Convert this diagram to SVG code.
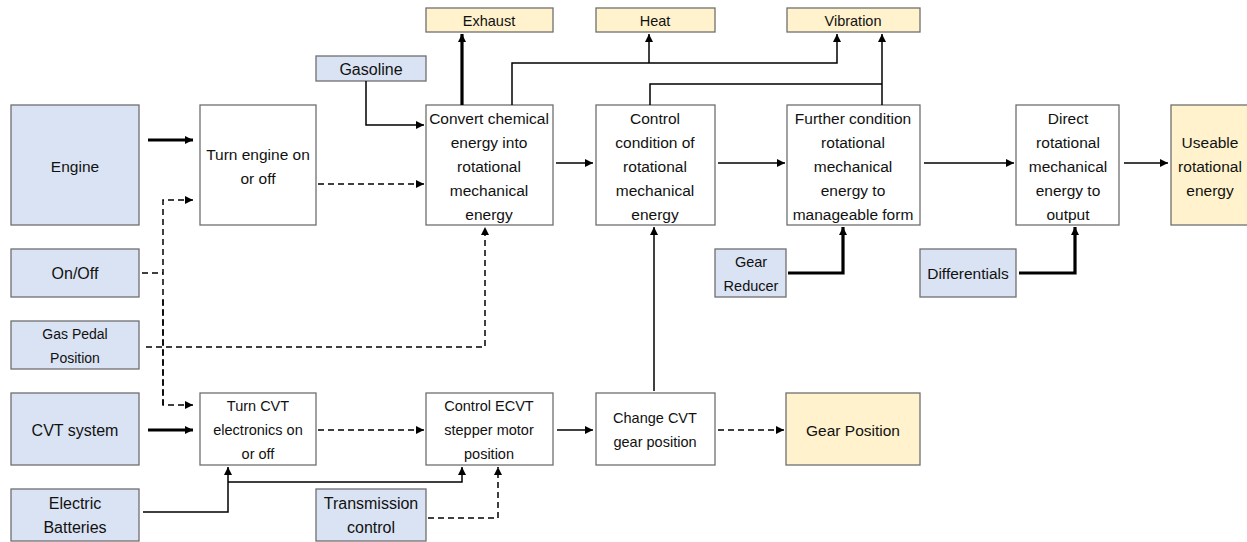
<svg xmlns="http://www.w3.org/2000/svg" width="1247" height="542" viewBox="0 0 1247 542">
<style>
.b{fill:#dae3f3;stroke:#6f6f6f;stroke-width:1.3}
.y{fill:#fff2cc;stroke:#6f6f6f;stroke-width:1.3}
.w{fill:#ffffff;stroke:#6f6f6f;stroke-width:1.3}
text{font-family:"Liberation Sans",Arial,sans-serif;font-size:14.5px;fill:#111;text-anchor:middle;dominant-baseline:central}
.l{font-size:16px}
.s{font-size:14px}
.m{font-size:15.5px}
.c path{fill:none;stroke:#000}
.t1{stroke-width:1.5}
.t3{stroke-width:3.2}
.d{stroke-dasharray:6 4}
</style>
<defs>
<marker id="a" viewBox="0 0 10 10" refX="10" refY="5" markerWidth="8" markerHeight="8" markerUnits="userSpaceOnUse" orient="auto"><path d="M0,0 L10,5 L0,10 z" fill="#000"/></marker>
</defs>
<g id="n-engine"><rect class="b" x="11" y="105" width="128" height="120"/><text class="m" x="75" y="166">Engine</text></g>
<g id="n-turnengine"><rect class="w" x="200" y="105" width="116" height="120"/><text class="m" x="258" y="154">Turn engine on</text><text class="m" x="258" y="178">or off</text></g>
<g id="n-gasoline"><rect class="b" x="316" y="56" width="110" height="25"/><text class="l" x="371" y="69">Gasoline</text></g>
<g id="n-convert"><rect class="w" x="426" y="105" width="127" height="120"/><text class="m" x="489" y="118">Convert chemical</text><text class="m" x="489" y="142">energy into</text><text class="m" x="489" y="166">rotational</text><text class="m" x="489" y="190">mechanical</text><text class="m" x="489" y="214">energy</text></g>
<g id="n-exhaust"><rect class="y" x="426" y="8" width="127" height="24"/><text x="489" y="21">Exhaust</text></g>
<g id="n-heat"><rect class="y" x="596" y="8" width="119" height="24"/><text x="655" y="21">Heat</text></g>
<g id="n-vibration"><rect class="y" x="787" y="8" width="133" height="24"/><text x="853" y="21">Vibration</text></g>
<g id="n-control"><rect class="w" x="596" y="105" width="119" height="120"/><text class="m" x="655" y="118">Control</text><text class="m" x="655" y="142">condition of</text><text class="m" x="655" y="166">rotational</text><text class="m" x="655" y="190">mechanical</text><text class="m" x="655" y="214">energy</text></g>
<g id="n-further"><rect class="w" x="787" y="105" width="133" height="120"/><text class="m" x="853" y="118">Further condition</text><text class="m" x="853" y="142">rotational</text><text class="m" x="853" y="166">mechanical</text><text class="m" x="853" y="190">energy to</text><text class="m" x="853" y="214">manageable form</text></g>
<g id="n-direct"><rect class="w" x="1016" y="105" width="103" height="120"/><text class="m" x="1068" y="118">Direct</text><text class="m" x="1068" y="142">rotational</text><text class="m" x="1068" y="166">mechanical</text><text class="m" x="1068" y="190">energy to</text><text class="m" x="1068" y="214">output</text></g>
<g id="n-useable"><rect class="y" x="1171" y="105" width="80" height="120"/><text class="m" x="1210" y="142">Useable</text><text class="m" x="1210" y="166">rotational</text><text class="m" x="1210" y="190">energy</text></g>
<g id="n-onoff"><rect class="b" x="11" y="249" width="128" height="48"/><text class="l" x="75" y="273">On/Off</text></g>
<g id="n-gaspedal"><rect class="b" x="11" y="321" width="128" height="48"/><text class="s" x="75" y="334">Gas Pedal</text><text class="s" x="75" y="358">Position</text></g>
<g id="n-gearreducer"><rect class="b" x="715" y="249" width="71" height="48"/><text x="751" y="262">Gear</text><text x="751" y="286">Reducer</text></g>
<g id="n-differentials"><rect class="b" x="920" y="249" width="96" height="48"/><text class="m" x="968" y="273">Differentials</text></g>
<g id="n-cvtsystem"><rect class="b" x="11" y="393" width="128" height="72"/><text class="l" x="75" y="430">CVT system</text></g>
<g id="n-turncvt"><rect class="w" x="200" y="393" width="116" height="72"/><text x="258" y="406">Turn CVT</text><text x="258" y="430">electronics on</text><text x="258" y="454">or off</text></g>
<g id="n-ecvt"><rect class="w" x="426" y="393" width="127" height="72"/><text x="489" y="406">Control ECVT</text><text x="489" y="430">stepper motor</text><text x="489" y="454">position</text></g>
<g id="n-changecvt"><rect class="w" x="596" y="393" width="119" height="72"/><text x="655" y="418">Change CVT</text><text x="655" y="442">gear position</text></g>
<g id="n-gearposition"><rect class="y" x="786" y="393" width="134" height="72"/><text class="m" x="853" y="430">Gear Position</text></g>
<g id="n-batteries"><rect class="b" x="11" y="489" width="128" height="52"/><text class="l" x="75" y="503">Electric</text><text class="l" x="75" y="527">Batteries</text></g>
<g id="n-transmission"><rect class="b" x="316" y="489" width="110" height="52"/><text class="l" x="371" y="503">Transmission</text><text class="l" x="371" y="527">control</text></g>
<g id="connectors" class="c">
<path class="t3" d="M148,140 H193" marker-end="url(#a)"/>
<path class="t1 d" d="M318,184 H424" marker-end="url(#a)"/>
<path class="t1" d="M366,81 V125 H424" marker-end="url(#a)"/>
<path class="t1 d" d="M142,273 H163"/>
<path class="t1 d" d="M163,405 V200 H193" marker-end="url(#a)"/>
<path class="t1 d" d="M163,300 V405 H193" marker-end="url(#a)"/>
<path class="t1 d" d="M146,347 H485 V227" marker-end="url(#a)"/>
<path class="t3" d="M148,430 H193" marker-end="url(#a)"/>
<path class="t1 d" d="M318,430 H424" marker-end="url(#a)"/>
<path class="t1" d="M143,512 H228 V467" marker-end="url(#a)"/>
<path class="t1" d="M228,482 H462 V467" marker-end="url(#a)"/>
<path class="t1 d" d="M428,518 H498 V467" marker-end="url(#a)"/>
<path class="t1" d="M557,430 H593" marker-end="url(#a)"/>
<path class="t1 d" d="M718,430 H784" marker-end="url(#a)"/>
<path class="t1" d="M654,391 V227" marker-end="url(#a)"/>
<path class="t3" d="M788,273 H843 V227" marker-end="url(#a)"/>
<path class="t3" d="M1019,273 H1075 V227" marker-end="url(#a)"/>
<path class="t1" d="M556,163 H593" marker-end="url(#a)"/>
<path class="t1" d="M718,163 H785" marker-end="url(#a)"/>
<path class="t1" d="M924,163 H1014" marker-end="url(#a)"/>
<path class="t1" d="M1124,163 H1168" marker-end="url(#a)"/>
<path class="t3" d="M462,105 V34" marker-end="url(#a)"/>
<path class="t1" d="M512,105 V63 H837 V34" marker-end="url(#a)"/>
<path class="t1" d="M649,63 V34" marker-end="url(#a)"/>
<path class="t1" d="M650,105 V84 H882"/>
<path class="t1" d="M882,105 V34" marker-end="url(#a)"/>
</g>
</svg>
